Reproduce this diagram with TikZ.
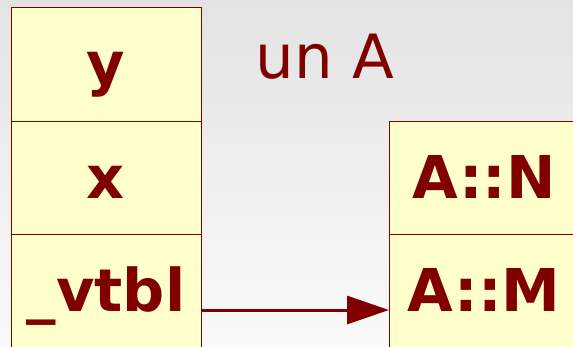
\documentclass[tikz,border=0pt]{standalone}
\usepackage{fontspec}
\setmainfont{DejaVu Sans}
\usetikzlibrary{positioning,arrows.meta}
\definecolor{darkred}{HTML}{800000}
\definecolor{cellfill}{HTML}{FFFFCC}

\begin{document}
\begin{tikzpicture}[x=1pt,y=1pt,
  cell/.style={rectangle, draw=darkred, fill=cellfill, line width=0.8pt,
    minimum width=190pt, minimum height=113.5pt, outer sep=0pt,
    text=darkred, font=\fontsize{59}{59}\selectfont\bfseries,
    text height=44pt, text depth=4pt},
  arr/.style={-{Triangle[length=42pt,width=28pt]}, line width=3pt, darkred}
]
% background
\useasboundingbox (0,0) rectangle (573,-346);
\shade[top color=black!11, bottom color=black!2] (0,0) rectangle (573,-346);

% object layout
\node[cell] (y) at (106,-64.5) {y};
\node[cell, below=0pt of y] (x) {x};
\node[cell, below=0pt of x] (vtbl) {\_vtbl};
\node[text=darkred, font=\fontsize{61}{61}\selectfont, anchor=base] (title) at (325,-78) {un A};

% vtable
\node[cell, right=188pt of x] (an) {A::N};
\node[cell, below=0pt of an] (am) {A::M};

\draw[arr] ([yshift=-18.5pt]vtbl.east) -- ([yshift=-18.5pt]am.west);
\end{tikzpicture}
\end{document}
